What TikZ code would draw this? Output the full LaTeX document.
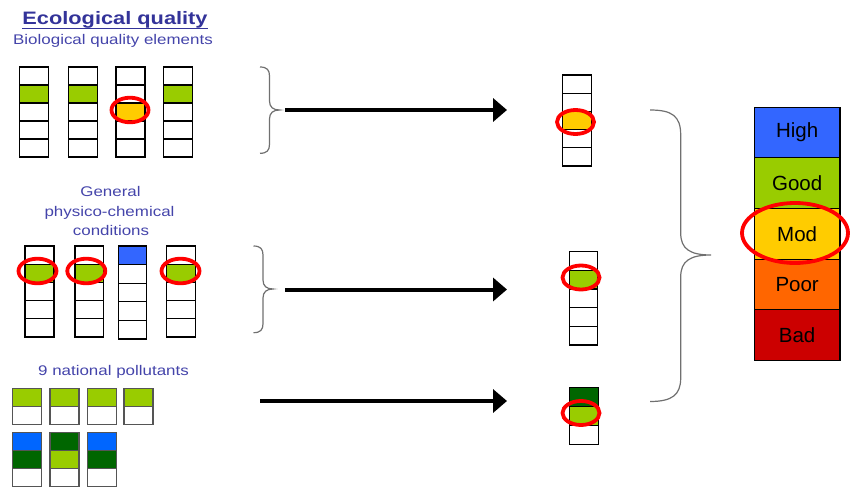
\documentclass[tikz,border=0pt]{standalone}
\usepackage{fontspec}
\setmainfont{Liberation Sans}
\usetikzlibrary{arrows.meta}
\definecolor{qgreen}{HTML}{99CC00}
\definecolor{qyellow}{HTML}{FFCC00}
\definecolor{qblue}{HTML}{3366FF}
\definecolor{qbright}{HTML}{0066FF}
\definecolor{qdark}{HTML}{006600}
\definecolor{qorange}{HTML}{FF6600}
\definecolor{qred}{HTML}{CC0000}
\definecolor{qtitle}{HTML}{333399}
\definecolor{qsub}{HTML}{4444AA}
\definecolor{qbrace}{HTML}{707070}
\definecolor{qring}{HTML}{FF0000}
\definecolor{qgrayline}{HTML}{555555}

% #1 draw colour, #2 x, #3 ytop, #4 width, #5 cell height, #6 fill list
\newcommand{\drawqcol}[6][black]{%
  \foreach \c [count=\i from 0] in {#6} {
    \path[fill=\c, draw=#1, line width=1.05pt] (#2, {#3+\i*#5}) rectangle ++(#4,#5);
  }%
}
% #1 x left, #2 ytop, #3 ytip, #4 ybottom
\newcommand{\drawsbrace}[4]{%
  \draw[bracestyle] (#1,#2) .. controls ({#1+7},#2) and ({#1+9.5},{#2+3}) .. ({#1+9.5},{#2+9})
    -- ({#1+9.5},{#3-9}) .. controls ({#1+9.5},{#3-3}) and ({#1+13},#3) .. ({#1+19.5},#3)
    .. controls ({#1+13},#3) and ({#1+9.5},{#3+3}) .. ({#1+9.5},{#3+9})
    -- ({#1+9.5},{#4-9}) .. controls ({#1+9.5},{#4-3}) and ({#1+7},#4) .. (#1,#4);%
}
\newcommand{\widetext}[1]{\scalebox{1.21}[1]{#1}}

\tikzset{
  bracestyle/.style={draw=qbrace, line width=1.2pt},
  ring/.style={draw=qring, line width=3.8pt},
  bigarrow/.style={line width=4pt, -{Triangle[length=14pt,width=23pt]}},
  subtext/.style={anchor=base, inner sep=0, text=qsub, font=\fontsize{14}{16}\selectfont},
  scalecell/.style={draw=black, line width=1.05pt, minimum width=85.7pt, minimum height=50.6pt,
    inner sep=0, font=\fontsize{20.5}{22}\selectfont, text=black}
}

\begin{document}
\begin{tikzpicture}[x=1pt, y=-1pt]
\useasboundingbox (0,0) rectangle (850,489);

% titles
\node[anchor=base, inner sep=0, text=qtitle, font=\bfseries\fontsize{18}{20}\selectfont] (title) at (115,25) {\widetext{Ecological quality}};
\draw[qtitle, line width=1.4pt] ([yshift=-3.8pt]title.base west) -- ([yshift=-3.8pt]title.base east);
\node[subtext] (bio) at (113,44.5) {\widetext{Biological quality elements}};
\node[subtext] (gen1) at (110.5,196) {\widetext{General}};
\node[subtext] (gen2) at (109.5,216.5) {\widetext{physico-chemical}};
\node[subtext] (gen3) at (111,235) {\widetext{conditions}};
\node[subtext] (nat) at (113.5,375) {\widetext{9 national pollutants}};

% group 1: biological
\drawqcol{19.5}{67}{29}{18}{white,qgreen,white,white,white}
\drawqcol{68.5}{67}{29}{18}{white,qgreen,white,white,white}
\drawqcol{116}{67}{29}{18}{white,white,qyellow,white,white}
\drawqcol{163.5}{67}{29}{18}{white,qgreen,white,white,white}

% group 2: physico-chemical
\drawqcol{25}{246}{29}{18.2}{white,qgreen,white,white,white}
\drawqcol{75}{246}{28.5}{18.2}{white,qgreen,white,white,white}
\drawqcol{118.3}{246}{28.5}{18.6}{qblue,white,white,white,white}
\drawqcol{166.7}{246}{29}{18.2}{white,qgreen,white,white,white}

% group 3: pollutants
\drawqcol[qgrayline]{12.7}{388.3}{29}{18.3}{qgreen,white}
\drawqcol[qgrayline]{50}{388.3}{29}{18.3}{qgreen,white}
\drawqcol[qgrayline]{87.3}{388.3}{29}{18.3}{qgreen,white}
\drawqcol[qgrayline]{124}{388.3}{29}{18.3}{qgreen,white}
\drawqcol[qgrayline]{12.7}{432.3}{29}{18.1}{qbright,qdark,white}
\drawqcol[qgrayline]{50}{432.3}{29}{18.1}{qdark,qgreen,white}
\drawqcol[qgrayline]{87.3}{432.3}{29}{18.1}{qbright,qdark,white}

% middle columns
\drawqcol{562.3}{75}{29.4}{18.2}{white,white,qyellow,white,white}
\drawqcol{569.3}{251.7}{28.4}{18.66}{white,qgreen,white,white,white}
\drawqcol{569.3}{387.7}{29}{18.8}{qdark,qgreen,white}

% rings
\draw[ring] (130,110) ellipse [x radius=18.5pt, y radius=12.3pt];
\draw[ring] (37.5,271) ellipse [x radius=19pt, y radius=12.3pt];
\draw[ring] (86.3,271) ellipse [x radius=19pt, y radius=12.3pt];
\draw[ring] (180.5,271) ellipse [x radius=19pt, y radius=12.3pt];
\draw[ring] (575.5,122) ellipse [x radius=18.5pt, y radius=12pt];
\draw[ring] (581,277.5) ellipse [x radius=18.5pt, y radius=12pt];
\draw[ring] (581,413) ellipse [x radius=18.5pt, y radius=12pt];

% braces
\drawsbrace{260}{67}{110}{153.3}
\drawsbrace{253.5}{246}{289}{332.7}
\draw[bracestyle] (650,110) .. controls (672,110) and (680.7,116) .. (680.7,135)
  -- (680.7,233) .. controls (680.7,249) and (690,255) .. (711,255)
  .. controls (690,255) and (680.7,261) .. (680.7,277)
  -- (680.7,378) .. controls (680.7,395) and (672,401.5) .. (650,401.5);

% arrows
\coordinate (a1s) at (285,110);
\coordinate (a1e) at (507,110);
\coordinate (a2s) at (285,289.5);
\coordinate (a2e) at (507,289.5);
\coordinate (a3s) at (260,401);
\coordinate (a3e) at (507,401);
\draw[bigarrow] (a1s) -- (a1e);
\draw[bigarrow] (a2s) -- (a2e);
\draw[bigarrow] (a3s) -- (a3e);

% scale
\node[scalecell, fill=qblue] (high) at (797.15,132.6) {High};
\node[scalecell, fill=qgreen] (good) at (797.15,183.2) {Good};
\node[scalecell, fill=qyellow] (mod) at (797.15,233.8) {Mod};
\node[scalecell, fill=qorange] (poor) at (797.15,284.4) {Poor};
\node[scalecell, fill=qred] (bad) at (797.15,335) {Bad};
\draw[ring] (795,233) ellipse [x radius=53pt, y radius=30pt];
\end{tikzpicture}
\end{document}
